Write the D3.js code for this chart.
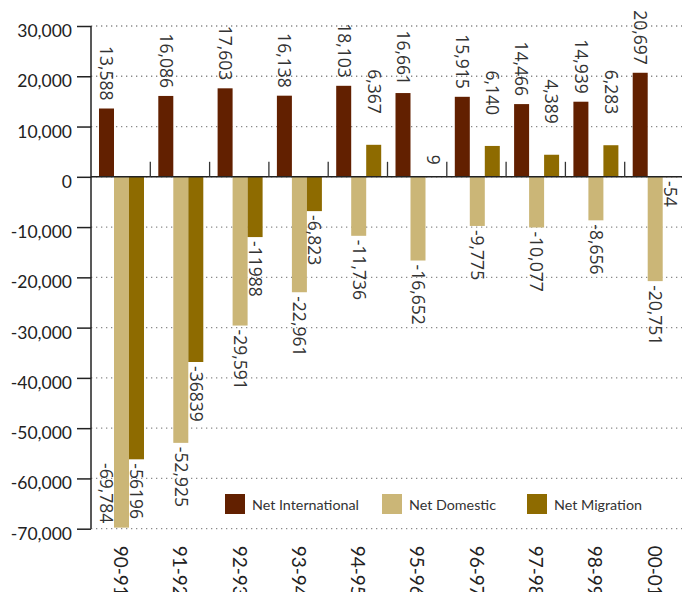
<!DOCTYPE html>
<html>
<head>
<meta charset="utf-8">
<script src="https://cdn.jsdelivr.net/npm/d3@7"></script>
<style>
  html, body { margin: 0; padding: 0; background: #fff; }
  svg { display: block; }
</style>
</head>
<body>
<svg id="chart" width="682" height="592"></svg>
<script>
const categories = ["90-91","91-92","92-93","93-94","94-95","95-96","96-97","97-98","98-99","00-01"];
const netInternational = [13588,16086,17603,16138,18103,16661,15915,14466,14939,20697];
const netDomestic = [-69784,-52925,-29591,-22961,-11736,-16652,-9775,-10077,-8656,-20751];
const netMigration = [-56196,-36839,-11988,-6823,6367,9,6140,4389,6283,-54];
const internationalLabels = ["13,588","16,086","17,603","16,138","18,103","16,661","15,915","14,466","14,939","20,697"];
const domesticLabels = ["-69,784","-52,925","-29,591","-22,961","-11,736","-16,652","-9,775","-10,077","-8,656","-20,751"];
const migrationLabels = ["-56196","-36839","-11988","-6,823","6,367","9","6,140","4,389","6,283","-54"];
const seriesNames = ["Net International","Net Domestic","Net Migration"];
const yTicks = [30000,20000,10000,0,-10000,-20000,-30000,-40000,-50000,-60000,-70000];

const series = [
  {name: seriesNames[0], values: netInternational, labels: internationalLabels, color: "#622000", posGap: 8},
  {name: seriesNames[1], values: netDomestic, labels: domesticLabels, color: "#CBB677", posGap: 8},
  {name: seriesNames[2], values: netMigration, labels: migrationLabels, color: "#8E6B00", posGap: 31}
];

const svg = d3.select("#chart");
const plotLeft = 91, plotRight = 684, plotTop = 26, plotBottom = 528.7;

const y = d3.scaleLinear().domain([-70000, 30000]).range([plotBottom, plotTop]);
const x0 = d3.scaleBand().domain(categories).range([plotLeft, plotRight]).padding(0);
const x1 = d3.scaleBand().domain(seriesNames).range([8, 53]).padding(0);
const bw = x1.bandwidth();
const fmt = d3.formatLocale({decimal: ".", thousands: ",", grouping: [3], currency: ["", ""], minus: "-"}).format(",");

// gridlines
svg.append("g").selectAll("line").data(yTicks).join("line")
  .attr("x1", plotLeft).attr("x2", 682)
  .attr("y1", d => y(d)).attr("y2", d => y(d))
  .attr("stroke", "#8a8a8a").attr("stroke-width", 1.3)
  .attr("stroke-dasharray", "1.3,3.7");

// bars
series.forEach(s => {
  svg.append("g").selectAll("rect").data(categories).join("rect")
    .attr("x", (c) => x0(c) + x1(s.name))
    .attr("width", bw)
    .attr("y", (c, i) => y(Math.max(0, s.values[i])))
    .attr("height", (c, i) => Math.abs(y(s.values[i]) - y(0)))
    .attr("fill", s.color);
});

// y axis
const yAxis = d3.axisLeft(y).tickValues(yTicks).tickFormat(fmt).tickSize(14).tickPadding(5);
const ya = svg.append("g").attr("transform", `translate(${plotLeft},0)`).call(yAxis);
ya.select(".domain").remove();
ya.selectAll(".tick line").attr("stroke", "#222").attr("stroke-width", 1.5);
ya.selectAll(".tick text")
  .attr("font-family", "Lato, sans-serif").attr("font-size", 17.5)
  .attr("fill", "#222").attr("dy", "0.6em");
svg.append("line").attr("x1", plotLeft).attr("x2", plotLeft).attr("y1", plotTop).attr("y2", plotBottom)
  .attr("stroke", "#222").attr("stroke-width", 1.5);

// x axis at zero
svg.append("line").attr("x1", plotLeft).attr("x2", 682).attr("y1", y(0)).attr("y2", y(0))
  .attr("stroke", "#222").attr("stroke-width", 1.5);
svg.append("g").selectAll("line").data(categories.slice(1)).join("line")
  .attr("x1", c => x0(c)).attr("x2", c => x0(c))
  .attr("y1", y(0) - 15).attr("y2", y(0))
  .attr("stroke", "#333").attr("stroke-width", 1.3);

// category labels
svg.append("g").selectAll("text").data(categories).join("text")
  .attr("transform", c => `translate(${x0(c) + x0.bandwidth() / 2},${plotBottom + 17}) rotate(90)`)
  .attr("dy", "0.35em")
  .attr("text-anchor", "start")
  .attr("font-family", "Lato, sans-serif").attr("font-size", 19)
  .attr("fill", "#222")
  .text(c => c);

// value labels
series.forEach(s => {
  const g = svg.append("g");
  categories.forEach((c, i) => {
    const v = s.values[i];
    let cx = x0(c) + x1(s.name) + bw / 2;
    const t = g.append("text")
      .attr("font-family", "'Open Sans', sans-serif").attr("font-size", 17.5)
      .attr("fill", "#333").attr("dy", "0.35em")
      .text(s.labels[i]);
    let ay, anchor;
    if (v >= 0) {
      const gap = Math.abs(v) < 100 ? 12 : s.posGap;
      ay = y(v) - gap; anchor = "end";
    } else {
      const len = t.node().getComputedTextLength();
      ay = y(v) + 4; anchor = "start";
      if (ay + len > plotBottom) { ay = plotBottom - 5.5; anchor = "end"; cx -= bw; }
    }
    t.attr("text-anchor", anchor).attr("transform", `translate(${cx},${ay}) rotate(90)`);
  });
});

// legend
const legendX = [225, 382, 527];
const lg = svg.append("g");
series.forEach((s, i) => {
  lg.append("rect").attr("x", legendX[i]).attr("y", 494).attr("width", 20).attr("height", 20).attr("fill", s.color);
  lg.append("text").attr("x", legendX[i] + 27).attr("y", 510)
    .attr("font-family", "Lato, sans-serif").attr("font-size", 14.3)
    .attr("fill", "#333").text(s.name);
});
</script>
</body>
</html>
